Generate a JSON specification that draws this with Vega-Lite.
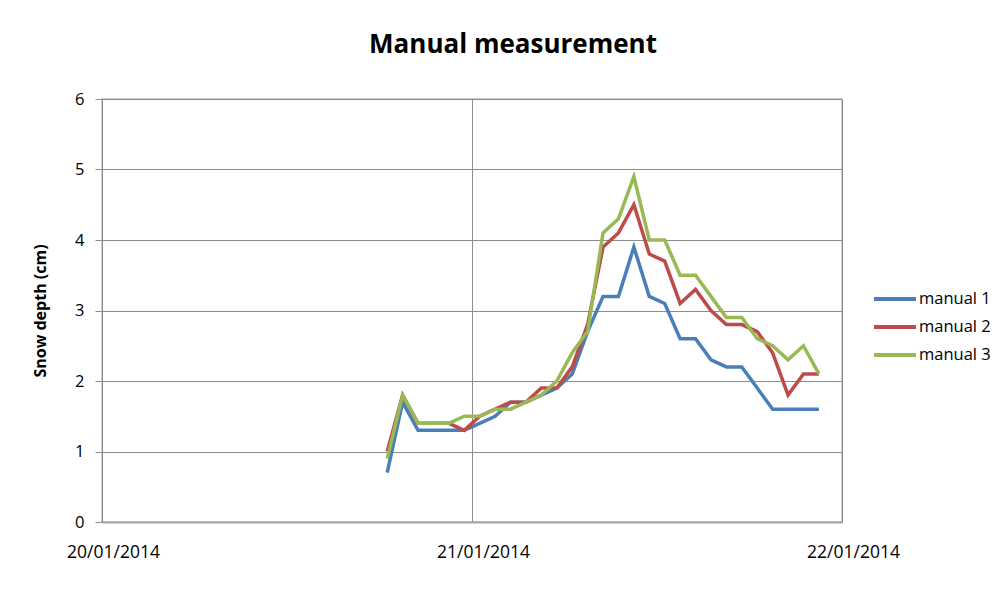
{
  "$schema": "https://vega.github.io/schema/vega-lite/v6.json",
  "autosize": {"type": "none"},
  "padding": {"left": 102, "top": 99, "right": 161, "bottom": 77},
  "width": 740,
  "height": 423,
  "background": "white",
  "title": {
    "text": "Manual measurement",
    "font": "Open Sans",
    "fontSize": 26,
    "fontWeight": "bold",
    "color": "#000000",
    "anchor": "middle",
    "frame": "group",
    "dx": 41,
    "offset": 33
  },
  "config": {
    "font": "Open Sans",
    "view": {"stroke": "#BFBFBF", "strokeWidth": 1.5}
  },
  "data": {
    "values": [
      {"t": "2014-01-20T18:30:00Z", "manual 1": 0.7, "manual 2": 1.0, "manual 3": 0.9},
      {"t": "2014-01-20T19:30:00Z", "manual 1": 1.7, "manual 2": 1.8, "manual 3": 1.8},
      {"t": "2014-01-20T20:30:00Z", "manual 1": 1.3, "manual 2": 1.4, "manual 3": 1.4},
      {"t": "2014-01-20T21:30:00Z", "manual 1": 1.3, "manual 2": 1.4, "manual 3": 1.4},
      {"t": "2014-01-20T22:30:00Z", "manual 1": 1.3, "manual 2": 1.4, "manual 3": 1.4},
      {"t": "2014-01-20T23:30:00Z", "manual 1": 1.3, "manual 2": 1.3, "manual 3": 1.5},
      {"t": "2014-01-21T00:30:00Z", "manual 1": 1.4, "manual 2": 1.5, "manual 3": 1.5},
      {"t": "2014-01-21T01:30:00Z", "manual 1": 1.5, "manual 2": 1.6, "manual 3": 1.6},
      {"t": "2014-01-21T02:30:00Z", "manual 1": 1.7, "manual 2": 1.7, "manual 3": 1.6},
      {"t": "2014-01-21T03:30:00Z", "manual 1": 1.7, "manual 2": 1.7, "manual 3": 1.7},
      {"t": "2014-01-21T04:30:00Z", "manual 1": 1.8, "manual 2": 1.9, "manual 3": 1.8},
      {"t": "2014-01-21T05:30:00Z", "manual 1": 1.9, "manual 2": 1.9, "manual 3": 2.0},
      {"t": "2014-01-21T06:30:00Z", "manual 1": 2.1, "manual 2": 2.2, "manual 3": 2.4},
      {"t": "2014-01-21T07:30:00Z", "manual 1": 2.7, "manual 2": 2.8, "manual 3": 2.7},
      {"t": "2014-01-21T08:30:00Z", "manual 1": 3.2, "manual 2": 3.9, "manual 3": 4.1},
      {"t": "2014-01-21T09:30:00Z", "manual 1": 3.2, "manual 2": 4.1, "manual 3": 4.3},
      {"t": "2014-01-21T10:30:00Z", "manual 1": 3.9, "manual 2": 4.5, "manual 3": 4.9},
      {"t": "2014-01-21T11:30:00Z", "manual 1": 3.2, "manual 2": 3.8, "manual 3": 4.0},
      {"t": "2014-01-21T12:30:00Z", "manual 1": 3.1, "manual 2": 3.7, "manual 3": 4.0},
      {"t": "2014-01-21T13:30:00Z", "manual 1": 2.6, "manual 2": 3.1, "manual 3": 3.5},
      {"t": "2014-01-21T14:30:00Z", "manual 1": 2.6, "manual 2": 3.3, "manual 3": 3.5},
      {"t": "2014-01-21T15:30:00Z", "manual 1": 2.3, "manual 2": 3.0, "manual 3": 3.2},
      {"t": "2014-01-21T16:30:00Z", "manual 1": 2.2, "manual 2": 2.8, "manual 3": 2.9},
      {"t": "2014-01-21T17:30:00Z", "manual 1": 2.2, "manual 2": 2.8, "manual 3": 2.9},
      {"t": "2014-01-21T18:30:00Z", "manual 1": 1.9, "manual 2": 2.7, "manual 3": 2.6},
      {"t": "2014-01-21T19:30:00Z", "manual 1": 1.6, "manual 2": 2.4, "manual 3": 2.5},
      {"t": "2014-01-21T20:30:00Z", "manual 1": 1.6, "manual 2": 1.8, "manual 3": 2.3},
      {"t": "2014-01-21T21:30:00Z", "manual 1": 1.6, "manual 2": 2.1, "manual 3": 2.5},
      {"t": "2014-01-21T22:30:00Z", "manual 1": 1.6, "manual 2": 2.1, "manual 3": 2.1}
    ]
  },
  "transform": [
    {"fold": ["manual 1", "manual 2", "manual 3"], "as": ["series", "value"]}
  ],
  "mark": {"type": "line", "strokeWidth": 3.5, "strokeJoin": "miter"},
  "encoding": {
    "x": {
      "field": "t",
      "type": "temporal",
      "scale": {
        "type": "utc",
        "domain": [
          {"year": 2014, "month": 1, "date": 20, "utc": true},
          {"year": 2014, "month": 1, "date": 22, "utc": true}
        ]
      },
      "axis": {
        "title": null,
        "values": [
          {"year": 2014, "month": 1, "date": 20, "utc": true},
          {"year": 2014, "month": 1, "date": 21, "utc": true},
          {"year": 2014, "month": 1, "date": 22, "utc": true}
        ],
        "labelExpr": "utcFormat(datum.value, '%d/%m/%Y')",
        "labelFontSize": 17.5,
        "labelColor": "#000000",
        "labelOffset": 11,
        "labelPadding": 21,
        "ticks": false,
        "domainColor": "#A6A6A6",
        "domainWidth": 2,
        "grid": true,
        "gridColor": "#8C8C8C",
        "gridWidth": 1,
        "labelFlush": false,
        "labelOverlap": false
      }
    },
    "y": {
      "field": "value",
      "type": "quantitative",
      "scale": {"domain": [0, 6], "nice": false, "zero": true},
      "axis": {
        "title": "Snow depth (cm)",
        "titleFontSize": 16,
        "titleFontWeight": "bold",
        "titleColor": "#000000",
        "titlePadding": 26,
        "values": [0, 1, 2, 3, 4, 5, 6],
        "labelFontSize": 16.5,
        "labelColor": "#000000",
        "labelPadding": 11,
        "tickSize": 7,
        "tickColor": "#8C8C8C",
        "domainColor": "#8C8C8C",
        "grid": true,
        "gridColor": "#8C8C8C",
        "gridWidth": 1
      }
    },
    "color": {
      "field": "series",
      "type": "nominal",
      "scale": {
        "domain": ["manual 1", "manual 2", "manual 3"],
        "range": ["#4A7EBB", "#BE4B48", "#98B954"]
      },
      "legend": {
        "title": null,
        "orient": "none",
        "legendX": 770,
        "legendY": 186,
        "symbolType": "stroke",
        "symbolSize": 1764,
        "symbolStrokeWidth": 4,
        "clipHeight": 28,
        "rowPadding": 0,
        "labelFontSize": 16.5,
        "labelColor": "#000000",
        "labelOffset": 1
      }
    }
  }
}
